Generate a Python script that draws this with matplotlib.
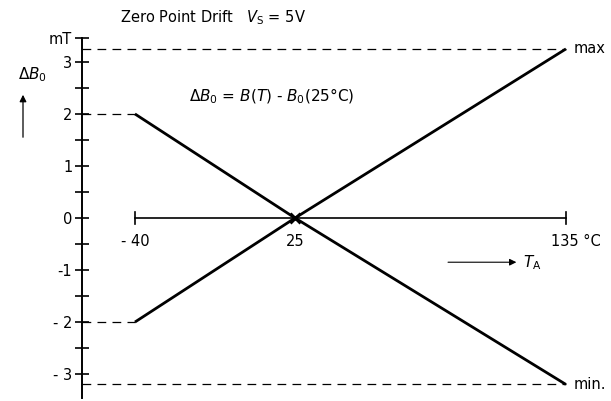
"""Zero point drift of the Hall sensor output vs. ambient temperature."""

import numpy as np
import matplotlib
matplotlib.use("Agg")
import matplotlib.pyplot as plt

# temperature points [°C] and drift limits [mT]
temps = [-40, 25, 135]
db_max = [-2.0, 0.0, 3.25]
db_min = [2.0, 0.0, -3.2]
yticks = [-3, -2, -1, 0, 1, 2, 3]
ytick_labels = ["- 3", "- 2", "-1", "0", "1", "2", "3"]
xlabels = ["- 40", "25", "135 °C"]

plt.rcParams["font.family"] = "DejaVu Sans"
plt.rcParams["font.size"] = 10.5

fig = plt.figure(figsize=(6.11, 4.01), dpi=100)
ax = fig.add_axes([82 / 611, 3 / 401, 1 - 82 / 611, 360 / 401])
ax.set_xlim(-61.5, 153.3)
ax.set_ylim(-3.46, 3.46)

for s in ("top", "right", "bottom"):
    ax.spines[s].set_visible(False)
ax.spines["left"].set_linewidth(1.4)

ax.set_xticks([])
ax.set_yticks(yticks + [3.46])
ax.set_yticklabels(ytick_labels + ["mT"])
ax.set_yticks(np.arange(-2.5, 3.0, 1.0), minor=True)
ax.tick_params(axis="y", which="both", direction="inout", length=10,
               width=1.2, pad=2)

k = dict(color="black", lw=2.0, solid_capstyle="butt", clip_on=False)
ax.plot(temps, db_max, **k)
ax.plot(temps, db_min, **k)

# dashed guides back to the axis
xl = ax.get_xlim()[0]
d = dict(color="black", lw=0.9, ls=(0, (7, 5)), clip_on=False)
for t, v in [(temps[0], db_max[0]), (temps[0], db_min[0]),
             (temps[-1], db_max[-1]), (temps[-1], db_min[-1])]:
    ax.plot([xl, t], [v, v], **d)

# temperature axis at zero drift
ax.plot([temps[0], temps[-1]], [0, 0], color="black", lw=1.2)
for t in (temps[0], temps[-1]):
    ax.plot([t, t], [-0.12, 0.12], color="black", lw=1.2)
ax.plot([temps[1]], [0], marker="x", ms=7, mew=2, color="black")
for t, lab in zip(temps, xlabels):
    ax.text(t, -0.3, lab, ha="center", va="top")
ax.texts[-1].set_ha("left")
ax.texts[-1].set_x(temps[-1] - 6)

ax.text(temps[-1] + 3, db_max[-1], "max", va="center", ha="left")
ax.text(temps[-1] + 3, db_min[-1], "min.", va="center", ha="left")

ax.annotate("", xy=(116, -0.85), xytext=(86, -0.85),
            arrowprops=dict(arrowstyle="-|>", color="black", lw=0.8,
                            mutation_scale=10))
ax.text(117.5, -0.85, "$T_\\mathregular{A}$", va="center", ha="left",
        fontsize=11)

ax.text(-18, 2.33, "$\\Delta B_0$ = $B(T)$ - $B_0$(25°C)", fontsize=11,
        va="center")

fig.text(120 / 611, 1 - 18 / 401, "Zero Point Drift   $V_\\mathregular{S}$ = 5V",
         va="center", ha="left")

# quantity label with its upward arrow
fig.text(18 / 611, 1 - 75 / 401, "$\\Delta B_0$", va="center", ha="left",
         fontsize=11)
fig.add_artist(matplotlib.patches.FancyArrowPatch(
    (23 / 611, 1 - 140 / 401), (23 / 611, 1 - 92 / 401),
    transform=fig.transFigure, arrowstyle="-|>", color="black", lw=0.9,
    mutation_scale=10))

fig.savefig("out.png", dpi=100)
